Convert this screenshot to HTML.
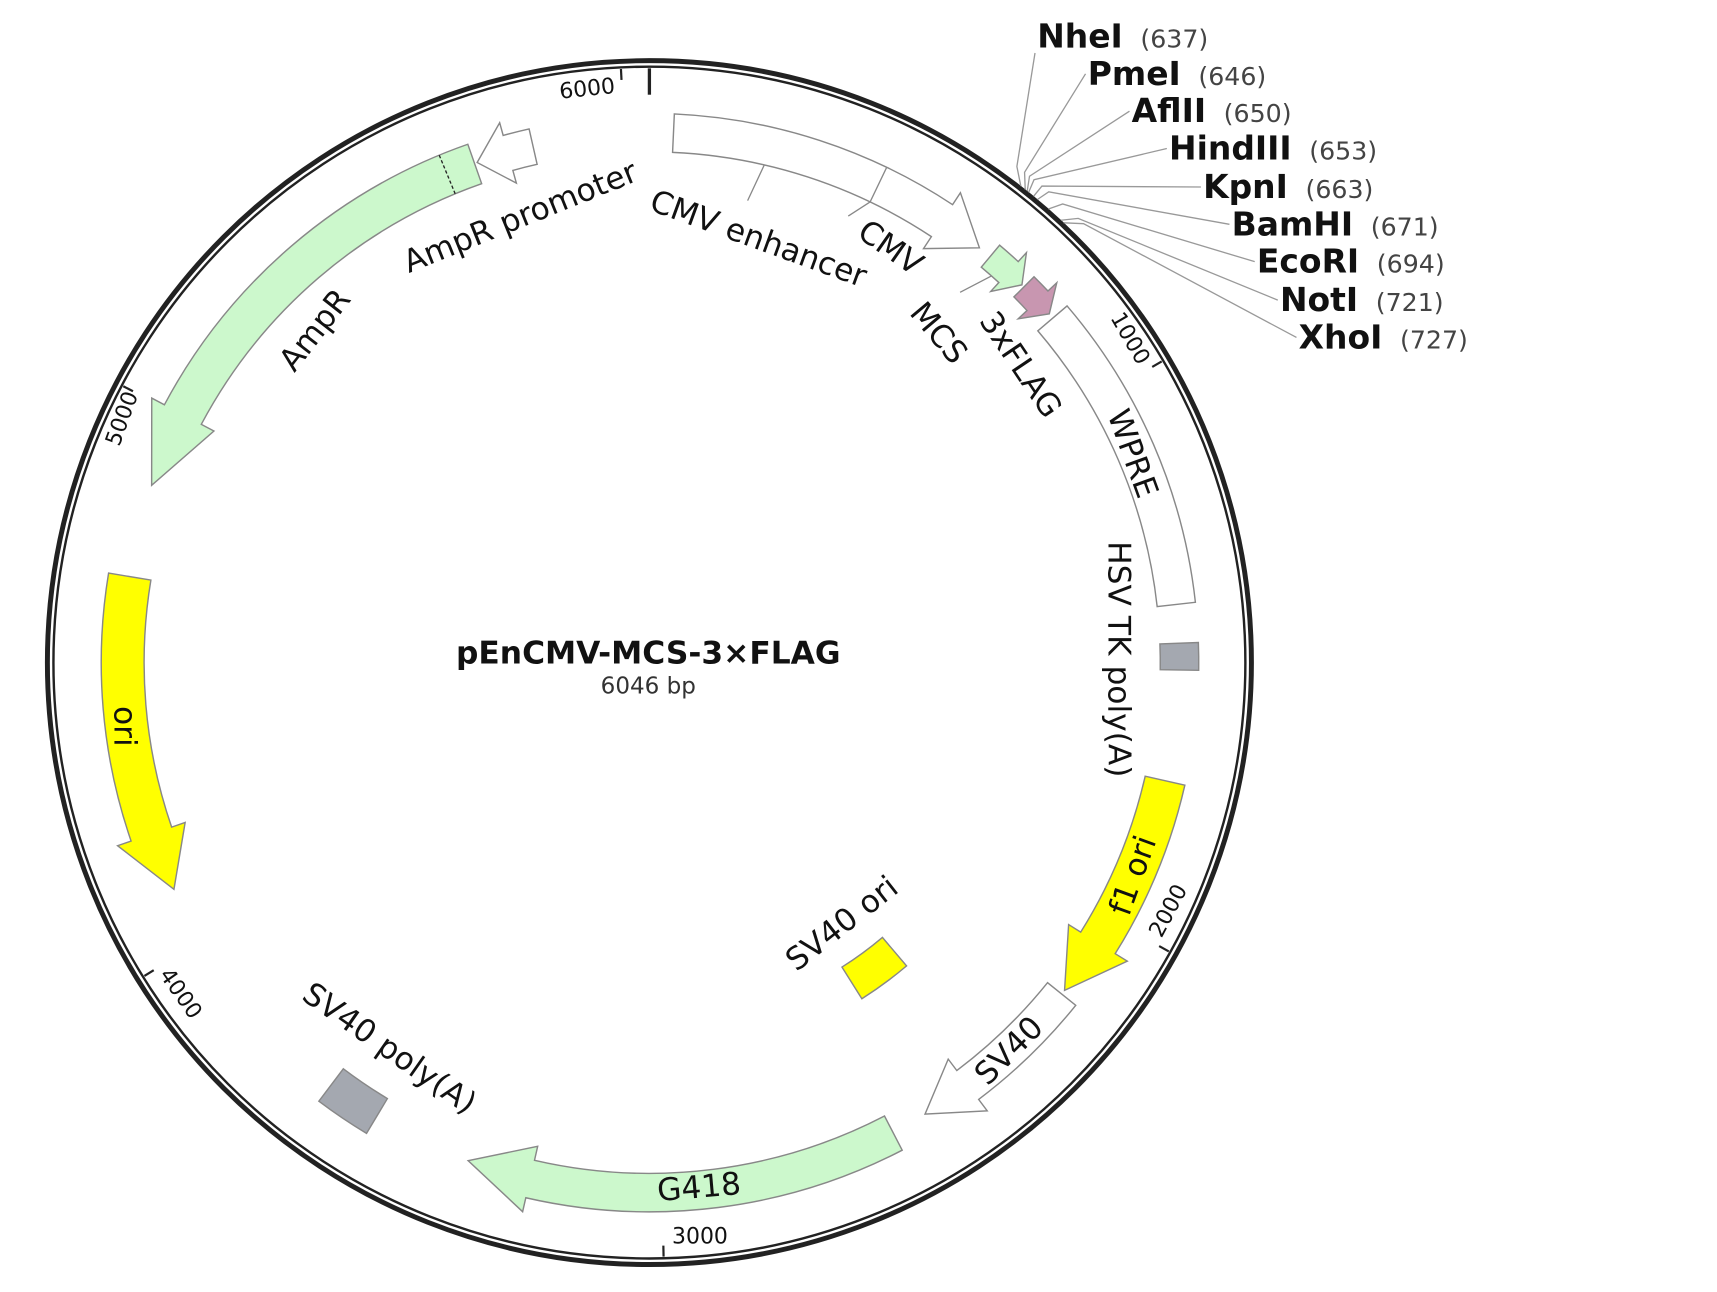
<!DOCTYPE html>
<html><head><meta charset="utf-8"><style>
html,body{margin:0;padding:0;background:#fff;overflow:hidden}
svg{display:block}
text{font-family:"DejaVu Sans","Liberation Sans",sans-serif}
</style></head><body>
<svg id="s" width="1717" height="1292" viewBox="0 0 1552 1168" preserveAspectRatio="none" xmlns="http://www.w3.org/2000/svg">
<rect width="1552" height="1168" fill="#fff"/>
<g transform="translate(587,599) scale(0.993) translate(-594,-605)">
<circle cx="594" cy="605" r="548" fill="none" stroke="#222" stroke-width="4.5"/>
<circle cx="594" cy="605" r="542.5" fill="none" stroke="#222" stroke-width="2.2"/>
<g id="f"></g>
<line x1="594" y1="64" x2="594" y2="88" stroke="#222" stroke-width="3"/>
<g font-size="28.5" fill="#111">
<text x="593" y="606" text-anchor="middle" font-weight="bold">pEnCMV-MCS-3×FLAG</text>
<text x="593" y="633" text-anchor="middle" font-size="21" fill="#333">6046 bp</text>
</g>
<g font-size="20" fill="#111">
<text transform="translate(538,89) rotate(-6)" text-anchor="middle">6000</text>
<text transform="translate(120,385) rotate(-70)" text-anchor="middle">5000</text>
<text transform="translate(162,910) rotate(55)" text-anchor="middle">4000</text>
<text transform="translate(640,1134)" text-anchor="middle">3000</text>
<text transform="translate(1072,834) rotate(-62)" text-anchor="middle">2000</text>
<text transform="translate(1026,313) rotate(60)" text-anchor="middle">1000</text>
</g>
<g font-size="28.5" fill="#111">
<text transform="translate(480,208) rotate(-22)" text-anchor="middle">AmpR promoter</text>
<text transform="translate(690,228) rotate(20)" text-anchor="middle">CMV enhancer</text>
<text transform="translate(808,235) rotate(35)" text-anchor="middle">CMV</text>
<text transform="translate(850,311) rotate(50)" text-anchor="middle">MCS</text>
<text transform="translate(924,339) rotate(56)" text-anchor="middle">3xFLAG</text>
<text transform="translate(1025,418) rotate(70)" text-anchor="middle">WPRE</text>
<text transform="translate(1012,602) rotate(90)" text-anchor="middle">HSV TK poly(A)</text>
<text transform="translate(1043,802) rotate(-70)" text-anchor="middle">f1 ori</text>
<text transform="translate(928,965) rotate(-45)" text-anchor="middle">SV40</text>
<text transform="translate(640,1092) rotate(-5)" text-anchor="middle">G418</text>
<text transform="translate(352,964) rotate(35)" text-anchor="middle">SV40 poly(A)</text>
<text transform="translate(775,850) rotate(-38)" text-anchor="middle">SV40 ori</text>
<text transform="translate(107,663) rotate(90)" text-anchor="middle">ori</text>
<text transform="translate(297,308) rotate(-52)" text-anchor="middle">AmpR</text>
</g>
<g id="enz" fill="#111"></g>
</g>
</svg>
<script>
var cx=594,cy=605,NS="http://www.w3.org/2000/svg";
function P(r,a){a=a*Math.PI/180;return [(cx+r*Math.sin(a)).toFixed(1),(cy-r*Math.cos(a)).toFixed(1)];}
function arc(r,a1,a2){var p=P(r,a2);var sw=a2>a1?1:0;var lg=Math.abs(a2-a1)>180?1:0;return "A"+r+" "+r+" 0 "+lg+" "+sw+" "+p[0]+" "+p[1];}
function band(r1,r2,a1,a2){var s=P(r2,a1),e=P(r1,a2);return "M"+s+" "+arc(r2,a1,a2)+" L"+e+" "+arc(r1,a2,a1)+" Z";}
function arrow(r1,r2,a1,ah,a2,w){var s=P(r2,a1);var rm=(r1+r2)/2;
return "M"+s+" "+arc(r2,a1,ah)+" L"+P(r2+w,ah)+" L"+P(rm,a2)+" L"+P(r1-w,ah)+" L"+P(r1,ah)+" "+arc(r1,ah,a1)+" Z";}
var g=document.getElementById("f");
function add(d,fill){var p=document.createElementNS(NS,"path");p.setAttribute("d",d);p.setAttribute("fill",fill);p.setAttribute("stroke","#888");p.setAttribute("stroke-width","1.3");g.appendChild(p);}
function line(a,b,extra){var l=document.createElementNS(NS,"line");l.setAttribute("x1",a[0]);l.setAttribute("y1",a[1]);l.setAttribute("x2",b[0]);l.setAttribute("y2",b[1]);l.setAttribute("stroke",extra||"#888");l.setAttribute("stroke-width","1.2");g.appendChild(l);return l;}
var G="#ccf8cc",Y="#ffff00",W="#fff",GR="#a4a8b0";
add(arrow(465,500,2.6,33.5,38.5,13),W);
line(P(465,25.6),P(500,25.6));
line(P(465,25.6),P(445,24));
line(P(465,13),P(430,12));
add(arrow(470,496,40,42.6,44.6,11),G);
line(P(470,41.5),P(440,40));
add(arrow(470,496,44.9,47,48.9,11),"#c896b0");
add(band(465,500,49.5,83.7),W);
add(band(465,500,87.9,90.8),GR);
add(arrow(463,500,102.9,122,128.3,13),Y);
add(arrow(465,498,128.8,143,148.6,13),W);
add(arrow(465,500,152.6,193,200,13),G);
add(band(463,500,211,217),GR);
add(band(328,362,139.7,147.7),Y);
add(arrow(460,499,279.4,251,244.5,13),Y);
add(arrow(462,500,340.7,298,289.6,13),G);
var dl=line(P(462,337.5),P(500,337.5),"#222");dl.setAttribute("stroke-dasharray","3,2");
add(arrow(465,498,347.3,344.5,341,12),W);
[1000,2000,3000,4000,5000,6000].forEach(function(t){var a=t/6046*360;line(P(541,a),P(531,a),"#222").setAttribute("stroke-width","2");});
var enz=[["NheI",637,947,45],["PmeI",646,993,79],["AflII",650,1033,113],["HindIII",653,1067,147],["KpnI",663,1098,182],["BamHI",671,1124,216],["EcoRI",694,1147,250],["NotI",721,1168,285],["XhoI",727,1185,319]];
var ez=document.getElementById("enz");
enz.forEach(function(e,i){var a=e[1]/6046*360;var p1=P(550,a),p2=P(562,a+ (i-4)*0.35);
var lx=e[2]-2,ly=e[3]-(i==0?-5:10);
var pl=document.createElementNS(NS,"polyline");pl.setAttribute("points",p1+" "+p2+" "+lx+","+ly);pl.setAttribute("fill","none");pl.setAttribute("stroke","#999");pl.setAttribute("stroke-width","1.2");ez.appendChild(pl);
var t=document.createElementNS(NS,"text");t.setAttribute("x",e[2]);t.setAttribute("y",e[3]);t.setAttribute("font-size","30");t.setAttribute("font-weight","bold");t.textContent=e[0];ez.appendChild(t);
var w=78;try{w=t.getComputedTextLength();}catch(x){}
var n=document.createElementNS(NS,"text");n.setAttribute("x",e[2]+w+16);n.setAttribute("y",e[3]);n.setAttribute("font-size","23");n.setAttribute("fill","#444");n.textContent="("+e[1]+")";ez.appendChild(n);});
</script>
</body></html>
